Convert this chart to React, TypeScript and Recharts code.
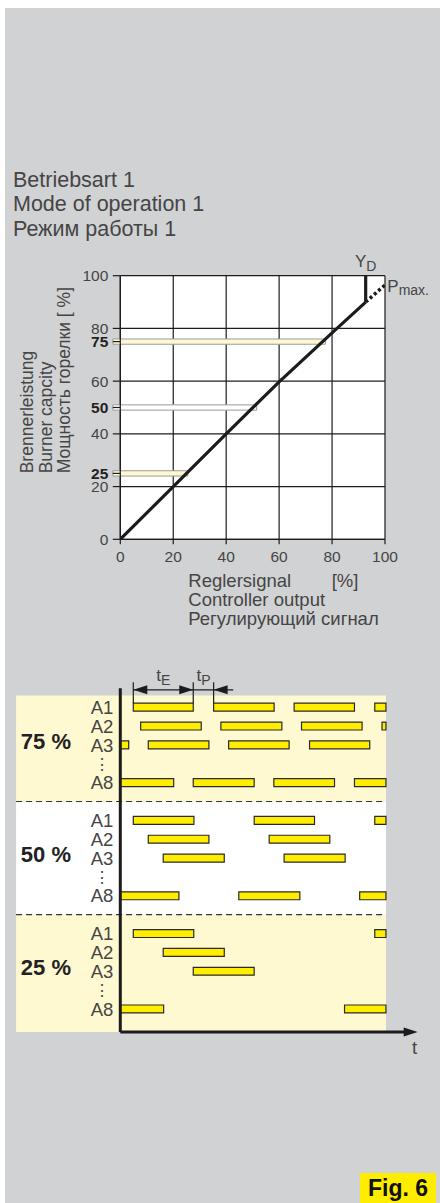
import React from "react";
import {
  ComposedChart,
  Line,
  XAxis,
  YAxis,
  CartesianGrid,
  ReferenceArea,
  ReferenceLine,
  ReferenceDot,
} from "recharts";

const FONT = "'Liberation Sans', Arial, Helvetica, sans-serif";
const PANEL = "#d1d2d4";
const YELLOW = "#ffed00";
const PALE = "#fff9d2";
const INK = "#1c1c1c";
const TEXT = "#454545";

// ---- characteristic curve (top chart) ----
const X_TICKS = [0, 20, 40, 60, 80, 100];
const Y_TICKS = [0, 20, 25, 40, 50, 60, 75, 80, 100];
const BOLD_TICKS = [25, 50, 75];
const GRID_VALUES = [0, 20, 40, 60, 80, 100];
const CURVE_X = [0, 20, 40, 60, 80, 92.7];
const CURVE_Y = [0, 20, 40, 59.7, 78.3, 90];
const YD_X = [92.7, 92.7];
const YD_Y = [90, 100];
const PMAX_X = [92.7, 100];
const PMAX_Y = [90, 96.5];
const BAND_LEVELS = [25, 50, 75];
const BAND_ENDS = [25.5, 51.5, 77.5];
const BAND_FILLS = [PALE, "#ffffff", PALE];
const BAND_START = -2.8;

// ---- pulse timing (bottom chart) ----
const T_MAX = 43.95;
const T_ARROW = 49.2;
const PANEL_LEFT = -17.24;
const SECTIONS = ["75 %", "50 %", "25 %"];
const SECTION_TOP = [-0.62, 5, 11];
const SECTION_BOTTOM = [5, 11, 17.22];
const SECTION_FILLS = [PALE, "#ffffff", PALE];
const SECTION_LABEL_LANE = [1.8, 7.8, 13.8];
const SECTION_LABEL_X = -16.46;
const SECTION_FIRST_LANE = [0, 6, 12];
const CHANNELS = ["A1", "A2", "A3", "A8"];
const CHANNEL_OFFSET = [0, 1, 2, 4];
const DOTS_OFFSET = 3;

const PULSES_75 = [
  [[2.15, 12.07], [15.44, 25.45], [28.76, 38.74], [42.1, 52]],
  [[3.37, 13.39], [16.64, 26.73], [29.98, 40.0], [43.3, 53.3]],
  [[-8.6, 1.39], [4.63, 14.66], [17.92, 27.93], [31.31, 41.27]],
  [[-1.1, 8.83], [12.07, 22.15], [25.4, 35.44], [38.74, 48.7]],
];
const PULSES_50 = [
  [[2.15, 12.18], [22.15, 32.13], [42.1, 52]],
  [[4.63, 14.66], [24.63, 34.66]],
  [[7.1, 17.2], [27.1, 37.2]],
  [[-0.3, 9.7], [19.6, 29.7], [39.6, 49.6]],
];
const PULSES_25 = [
  [[2.15, 12.15], [42.1, 52]],
  [[7.1, 17.2]],
  [[12.07, 22.15]],
  [[-2.83, 7.17], [37.1, 47.1]],
];
const PULSES = [PULSES_75, PULSES_50, PULSES_25];

const DIM_LANE = -0.92;
const DIM_TICK_TOP = -1.32;
const DIM_LABEL_LANE = -1.41;
const DIM_END = 18.68;
const BAR_HALF = 0.21;

const laneTicks: number[] = [];
const laneNames: Record<number, string> = {};
SECTION_FIRST_LANE.forEach((first) => {
  CHANNELS.forEach((ch, i) => {
    laneTicks.push(first + CHANNEL_OFFSET[i]);
    laneNames[first + CHANNEL_OFFSET[i]] = ch;
  });
  laneTicks.push(first + DOTS_OFFSET);
  laneNames[first + DOTS_OFFSET] = "⋮";
});
laneTicks.sort((a, b) => a - b);

const curveData = CURVE_X.map((x, i) => ({ x, y: CURVE_Y[i] }));
const ydData = YD_X.map((x, i) => ({ x, y: YD_Y[i] }));
const pmaxData = PMAX_X.map((x, i) => ({ x, y: PMAX_Y[i] }));

const ValueTick = (props: any) => {
  const { x, y, payload } = props;
  const bold = BOLD_TICKS.includes(payload.value);
  return (
    <text
      x={x}
      y={y}
      dy="0.36em"
      textAnchor="end"
      fontFamily={FONT}
      fontSize={15.5}
      fontWeight={bold ? 700 : 400}
      fill={bold ? "#222" : TEXT}
    >
      {payload.value}
    </text>
  );
};

const LaneTick = (props: any) => {
  const { x, y, payload } = props;
  const name = laneNames[payload.value];
  if (name === "⋮") {
    return (
      <text x={x - 11} y={y} dy="0.36em" textAnchor="middle" fontSize={16} fill={TEXT} fontFamily={FONT}>
        ⋮
      </text>
    );
  }
  return (
    <text x={x} y={y} dy="0.36em" textAnchor="end" fontSize={18.5} fill={TEXT} fontFamily={FONT}>
      {name}
    </text>
  );
};

const arrowHead = (dir: number) => (p: any) => (
  <polygon
    points={`${p.cx},${p.cy} ${p.cx - dir * 14},${p.cy - 4.5} ${p.cx - dir * 14},${p.cy + 4.5}`}
    fill={INK}
  />
);

const textMark = (content: React.ReactNode, dx: number, dy: number, anchor: string, size: number, weight = 400) =>
  (p: any) => (
    <text
      x={p.cx + dx}
      y={p.cy + dy}
      textAnchor={anchor as any}
      fontFamily={FONT}
      fontSize={size}
      fontWeight={weight}
      fill={weight > 400 ? "#222" : TEXT}
    >
      {content}
    </text>
  );

function CurveChart() {
  return (
    <ComposedChart width={440} height={380} margin={{ top: 25.7, right: 55, bottom: 60.7, left: 80.3 }}>
      <CartesianGrid
        horizontalValues={GRID_VALUES}
        verticalValues={GRID_VALUES}
        stroke={INK}
        strokeWidth={1.2}
        fill="#ffffff"
        fillOpacity={1}
      />
      <XAxis
        type="number"
        dataKey="x"
        domain={[0, 100]}
        ticks={X_TICKS}
        allowDataOverflow
        tickSize={5}
        tickMargin={7}
        height={30}
        axisLine={{ stroke: INK, strokeWidth: 1.2 }}
        tickLine={{ stroke: INK, strokeWidth: 1.2 }}
        tick={{ fill: TEXT, fontSize: 15.5, fontFamily: FONT }}
      />
      <YAxis
        type="number"
        dataKey="y"
        domain={[0, 100]}
        ticks={Y_TICKS}
        interval={0}
        allowDataOverflow
        width={40}
        tickSize={7.5}
        tickMargin={4.5}
        axisLine={{ stroke: INK, strokeWidth: 1.2 }}
        tickLine={{ stroke: INK, strokeWidth: 1.2 }}
        tick={<ValueTick />}
      />
      {BAND_LEVELS.map((lvl, i) => (
        <ReferenceArea
          key={`band-${lvl}`}
          x1={BAND_START}
          x2={BAND_ENDS[i]}
          y1={lvl - 1}
          y2={lvl + 1}
          ifOverflow="visible"
          fill={BAND_FILLS[i]}
          fillOpacity={1}
          stroke="#9a9a9a"
          strokeWidth={1}
        />
      ))}
      <Line data={curveData} dataKey="y" type="linear" stroke={INK} strokeWidth={3.2} dot={false} isAnimationActive={false} />
      <Line data={ydData} dataKey="y" type="linear" stroke={INK} strokeWidth={3.2} dot={false} isAnimationActive={false} />
      <Line
        data={pmaxData}
        dataKey="y"
        type="linear"
        stroke={INK}
        strokeWidth={3.5}
        strokeDasharray="3 2.6"
        dot={false}
        isAnimationActive={false}
      />
      <ReferenceDot
        x={YD_X[1]}
        y={YD_Y[1]}
        ifOverflow="visible"
        shape={textMark(
          <>
            Y<tspan fontSize={14} dy={4}>D</tspan>
          </>,
          0,
          -9,
          "middle",
          17
        )}
      />
      <ReferenceDot
        x={PMAX_X[1]}
        y={PMAX_Y[1]}
        ifOverflow="visible"
        shape={textMark(
          <>
            P<tspan fontSize={14} dy={3}>max.</tspan>
          </>,
          2.3,
          6.7,
          "start",
          17
        )}
      />
    </ComposedChart>
  );
}

function PulseChart() {
  const a1 = PULSES_75[0];
  const dimTicks = [a1[0][0], a1[0][1], a1[1][0]];
  return (
    <ComposedChart width={440} height={420} margin={{ top: 48.3, right: 54.05, bottom: 28, left: 60.3 }}>
      <XAxis type="number" dataKey="x" domain={[0, T_MAX]} allowDataOverflow hide />
      <YAxis
        type="number"
        dataKey="lane"
        domain={[-1, 17.22]}
        reversed
        allowDataOverflow
        ticks={laneTicks}
        interval={0}
        width={60}
        tickSize={0}
        tickMargin={7}
        tickLine={false}
        axisLine={{ stroke: INK, strokeWidth: 3 }}
        tick={<LaneTick />}
      />
      {SECTIONS.map((s, i) => (
        <ReferenceArea
          key={`sec-${s}`}
          x1={PANEL_LEFT}
          x2={T_MAX}
          y1={SECTION_TOP[i]}
          y2={SECTION_BOTTOM[i]}
          ifOverflow="visible"
          fill={SECTION_FILLS[i]}
          fillOpacity={1}
          stroke="none"
        />
      ))}
      {PULSES.map((section, si) =>
        section.map((row, ci) =>
          row.map(([t0, t1], k) => {
            const lane = SECTION_FIRST_LANE[si] + CHANNEL_OFFSET[ci];
            return (
              <ReferenceArea
                key={`p-${si}-${ci}-${k}`}
                x1={Math.max(0, t0)}
                x2={Math.min(T_MAX, t1)}
                y1={lane - BAR_HALF}
                y2={lane + BAR_HALF}
                ifOverflow="visible"
                fill={YELLOW}
                fillOpacity={1}
                stroke="#2a2a2a"
                strokeWidth={1.2}
              />
            );
          })
        )
      )}
      {[SECTION_BOTTOM[0], SECTION_BOTTOM[1]].map((y) => (
        <ReferenceLine
          key={`sep-${y}`}
          segment={[
            { x: PANEL_LEFT, y },
            { x: T_MAX, y },
          ]}
          ifOverflow="visible"
          stroke="#333"
          strokeWidth={1.2}
          strokeDasharray="6 4"
        />
      ))}
      {SECTIONS.map((s, i) => (
        <ReferenceDot
          key={`lbl-${s}`}
          x={SECTION_LABEL_X}
          y={SECTION_LABEL_LANE[i]}
          ifOverflow="visible"
          shape={textMark(s, 0, 8, "start", 22, 700)}
        />
      ))}
      <ReferenceLine
        segment={[
          { x: 0, y: 17.22 },
          { x: T_ARROW - 1.5, y: 17.22 },
        ]}
        ifOverflow="visible"
        stroke={INK}
        strokeWidth={3}
      />
      <ReferenceDot x={T_ARROW} y={17.22} ifOverflow="visible" shape={arrowHead(1)} />
      <ReferenceDot x={T_ARROW} y={17.22} ifOverflow="visible" shape={textMark("t", -3, 22, "middle", 18.5)} />
      {dimTicks.map((t) => (
        <ReferenceLine
          key={`dt-${t}`}
          segment={[
            { x: t, y: DIM_TICK_TOP },
            { x: t, y: -BAR_HALF },
          ]}
          ifOverflow="visible"
          stroke={INK}
          strokeWidth={1.2}
        />
      ))}
      <ReferenceLine
        segment={[
          { x: dimTicks[0], y: DIM_LANE },
          { x: DIM_END, y: DIM_LANE },
        ]}
        ifOverflow="visible"
        stroke={INK}
        strokeWidth={1.2}
      />
      <ReferenceDot x={dimTicks[0]} y={DIM_LANE} ifOverflow="visible" shape={arrowHead(-1)} />
      <ReferenceDot x={dimTicks[1]} y={DIM_LANE} ifOverflow="visible" shape={arrowHead(1)} />
      <ReferenceDot x={dimTicks[2]} y={DIM_LANE} ifOverflow="visible" shape={arrowHead(-1)} />
      <ReferenceDot
        x={(dimTicks[0] + dimTicks[1]) / 2}
        y={DIM_LABEL_LANE}
        ifOverflow="visible"
        shape={textMark(
          <>
            t<tspan fontSize={14} dy={4}>E</tspan>
          </>,
          0,
          0,
          "middle",
          17
        )}
      />
      <ReferenceDot
        x={(dimTicks[1] + dimTicks[2]) / 2}
        y={DIM_LABEL_LANE}
        ifOverflow="visible"
        shape={textMark(
          <>
            t<tspan fontSize={14} dy={4}>P</tspan>
          </>,
          0,
          0,
          "middle",
          17
        )}
      />
    </ComposedChart>
  );
}

export default function App() {
  return (
    <div style={{ position: "absolute", left: 0, top: 0, width: 440, height: 1203, background: "#fff", overflow: "hidden" }}>
      <div style={{ position: "absolute", left: 5, top: 8, width: 435, height: 1195, background: PANEL }} />
      <svg width={440} height={1203} style={{ position: "absolute", left: 0, top: 0 }} fontFamily={FONT}>
        <g fill={TEXT} fontSize={21.5}>
          <text x={13} y={186.7}>Betriebsart 1</text>
          <text x={13} y={211.2}>Mode of operation 1</text>
          <text x={13} y={235.7}>Режим работы 1</text>
        </g>
        <g fill={TEXT} fontSize={17.5}>
          <text transform="translate(33,473.3) rotate(-90)">Brennerleistung</text>
          <text transform="translate(51.5,473.3) rotate(-90)">Burner capcity</text>
          <text transform="translate(70,473.3) rotate(-90)">Мощность горелки [ %]</text>
        </g>
        <g fill={TEXT} fontSize={18.5}>
          <text x={188.3} y={586.7}>
            Reglersignal<tspan x={331.7}>[%]</tspan>
          </text>
          <text x={188.3} y={605.9}>Controller output</text>
          <text x={188.3} y={625.1}>Регулирующий сигнал</text>
        </g>
        <rect x={360} y={1173} width={76} height={30} fill={YELLOW} />
        <text x={368} y={1195.5} fontSize={23} fontWeight={700} fill="#111">
          Fig. 6
        </text>
      </svg>
      <div style={{ position: "absolute", left: 0, top: 250 }}>
        <CurveChart />
      </div>
      <div style={{ position: "absolute", left: 0, top: 640 }}>
        <PulseChart />
      </div>
    </div>
  );
}
